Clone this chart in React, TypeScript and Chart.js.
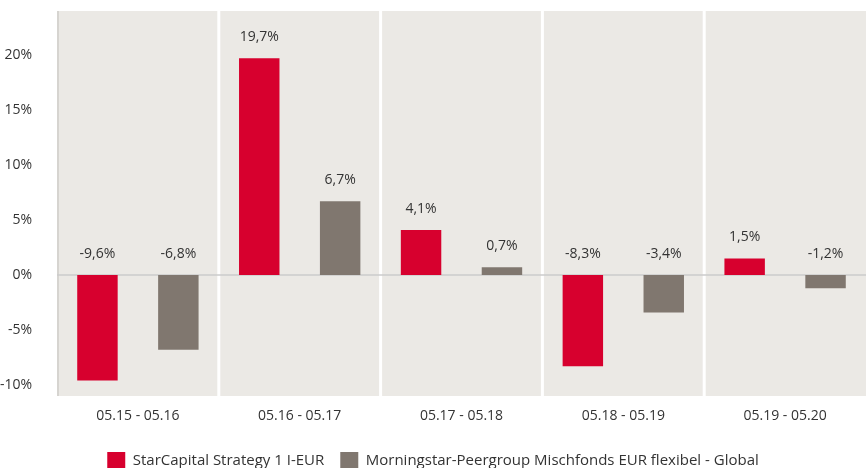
import React, { useEffect, useRef } from "react";
import { Chart, registerables } from "chart.js";

Chart.register(...registerables);

const categories = ["05.15 - 05.16", "05.16 - 05.17", "05.17 - 05.18", "05.18 - 05.19", "05.19 - 05.20"];
const fundValues = [-9.6, 19.7, 4.1, -8.3, 1.5];
const peerValues = [-6.8, 6.7, 0.7, -3.4, -1.2];
const seriesNames = ["StarCapital Strategy 1 I-EUR", "Morningstar-Peergroup Mischfonds EUR flexibel - Global"];
const seriesColors = ["#D7002E", "#80776F"];
const yTicks = [-10, -5, 0, 5, 10, 15, 20];
const yMin = -11;
const yMax = 24;

const FONT = "'Open Sans', sans-serif";
const TEXT = "#333333";

const fmt = (v: number) => v.toFixed(1).replace(".", ",") + "%";

const bgPlugin = {
  id: "bgPlugin",
  beforeDatasetsDraw(chart: any) {
    const { ctx, chartArea: a, scales } = chart;
    ctx.save();
    ctx.fillStyle = "#EBE9E5";
    ctx.fillRect(a.left, a.top, a.right - a.left, a.bottom - a.top);
    const xs = scales.x;
    ctx.fillStyle = "#FFFFFF";
    for (let i = 1; i < categories.length; i++) {
      const px = (xs.getPixelForValue(i - 1) + xs.getPixelForValue(i)) / 2;
      ctx.fillRect(px - 1.5, a.top, 3, a.bottom - a.top);
    }
    ctx.fillStyle = "#D6D4D0";
    ctx.fillRect(a.left, a.top, 2, a.bottom - a.top);
    const y0 = scales.y.getPixelForValue(0);
    ctx.strokeStyle = "#CBCBCB";
    ctx.lineWidth = 1.5;
    ctx.beginPath();
    ctx.moveTo(a.left, y0);
    ctx.lineTo(a.right, y0);
    ctx.stroke();
    ctx.restore();
  },
};

const labelPlugin = {
  id: "labelPlugin",
  afterDatasetsDraw(chart: any) {
    const { ctx } = chart;
    ctx.save();
    ctx.font = `14px ${FONT}`;
    ctx.fillStyle = TEXT;
    ctx.textAlign = "center";
    ctx.textBaseline = "middle";
    chart.data.datasets.forEach((ds: any, di: number) => {
      const meta = chart.getDatasetMeta(di);
      meta.data.forEach((bar: any, i: number) => {
        const top = Math.min(bar.y, bar.base);
        ctx.fillText(fmt(ds.data[i]), bar.x, top - 21);
      });
    });
    ctx.restore();
  },
};

export default function App() {
  const ref = useRef<HTMLCanvasElement | null>(null);
  useEffect(() => {
    document.body.style.margin = "0";
    const chart = new Chart(ref.current as HTMLCanvasElement, {
      type: "bar",
      data: {
        labels: categories,
        datasets: [
          { label: seriesNames[0], data: fundValues, backgroundColor: seriesColors[0] },
          { label: seriesNames[1], data: peerValues, backgroundColor: seriesColors[1] },
        ],
      },
      options: {
        animation: false,
        responsive: true,
        maintainAspectRatio: false,
        datasets: { bar: { categoryPercentage: 1, barPercentage: 0.5 } },
        layout: { padding: { top: 11, right: 0, left: 0, bottom: -12 } },
        plugins: {
          tooltip: { enabled: false },
          legend: {
            position: "bottom",
            labels: {
              boxWidth: 18,
              boxHeight: 18,
              padding: 16,
              color: TEXT,
              font: { family: FONT, size: 15 },
            },
          },
        },
        scales: {
          x: {
            grid: { display: false },
            border: { display: false },
            ticks: { color: TEXT, font: { family: FONT, size: 14 }, padding: 4 },
            afterFit: (s: any) => { s.height = 40; },
          },
          y: {
            min: yMin,
            max: yMax,
            grid: { display: false },
            border: { display: false },
            afterBuildTicks: (s: any) => { s.ticks = yTicks.map((v) => ({ value: v })); },
            ticks: {
              color: TEXT,
              font: { family: FONT, size: 14 },
              padding: 17,
              callback: (v: any) => `${v}%`,
            },
            afterFit: (s: any) => { s.width = 57; s.paddingTop = 0; s.paddingBottom = 0; },
          },
        },
      },
      plugins: [bgPlugin, labelPlugin],
    });
    return () => chart.destroy();
  }, []);
  return (
    <div style={{ width: 866, height: 468, position: "relative" }}>
      <canvas ref={ref} />
    </div>
  );
}
